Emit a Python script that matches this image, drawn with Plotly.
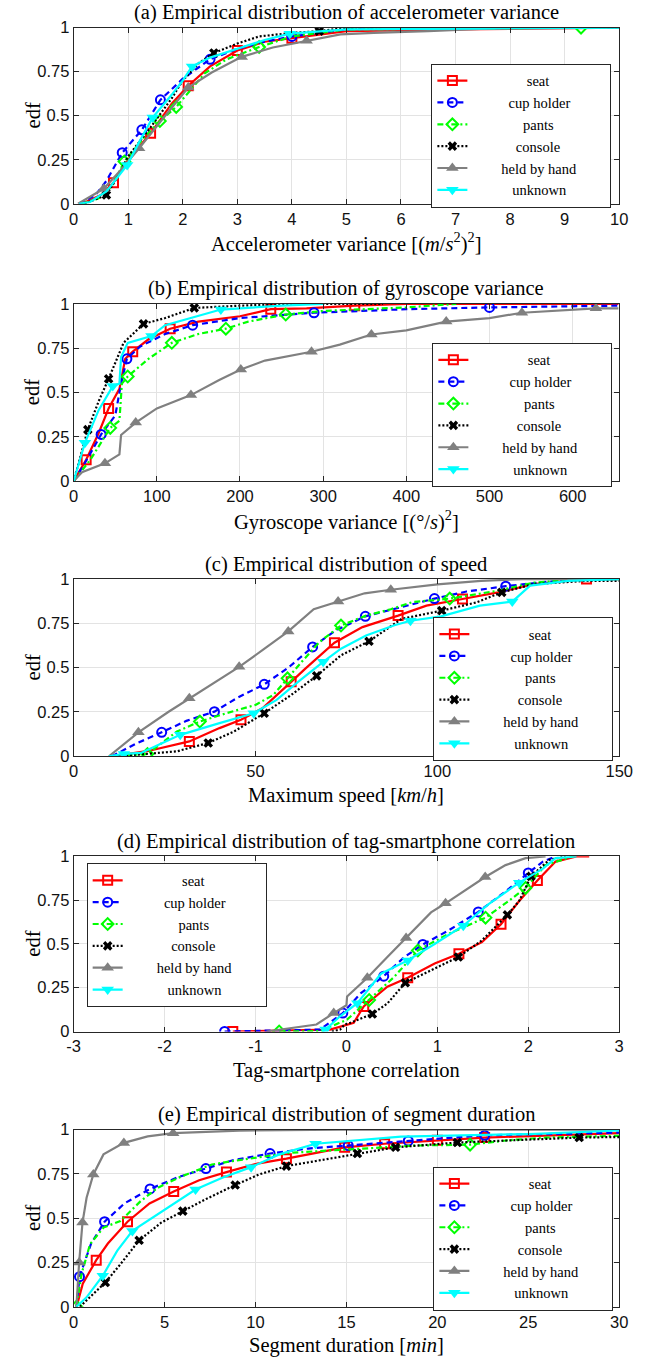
import plotly.graph_objects as go

# Empirical mapping between figure pixels and the photographed picture:
# picture = K * (figure + O).  Reference pixel positions are converted with it.
KX, OX = 0.969, 7.5
KY, OY = 0.986, 8.5
W, H = 660, 1370

NAMES = ['seat', 'cup holder', 'pants', 'console', 'held by hand', 'unknown']
COLORS = ['#ff0000', '#0000ff', '#00ff00', '#000000', '#808080', '#00ffff']
DASH = ['solid', '6px,4px', '6px,3px,2px,3px', '2px,2px', 'solid', 'solid']
SYMB = ['square-open', 'circle-open', 'diamond-open', 'x', 'triangle-up', 'triangle-down']

# ---------------- (a) accelerometer variance ----------------
a_seat_x = [0.15, 0.5, 0.73, 1.0, 1.41, 1.8, 2.1, 2.5, 3.0, 3.5, 4.0, 5.0, 7.0, 10.0]
a_seat_y = [0, 0.05, 0.12, 0.25, 0.40, 0.57, 0.67, 0.78, 0.87, 0.92, 0.94, 0.98, 0.99, 1.0]
a_seat_m = [2, 4, 6, 8, 10]
a_cup_x = [0.1, 0.4, 0.6, 0.89, 1.25, 1.59, 2.0, 2.5, 3.0, 3.5, 4.0, 5.0, 6.0, 10.0]
a_cup_y = [0, 0.05, 0.13, 0.29, 0.42, 0.59, 0.71, 0.82, 0.88, 0.92, 0.95, 0.99, 1.0, 1.0]
a_cup_m = [3, 4, 5, 7, 10]
a_pants_x = [0.15, 0.45, 0.7, 0.93, 1.3, 1.58, 1.88, 2.1, 2.4, 2.8, 3.4, 4.0, 5.0, 9.3, 10.0]
a_pants_y = [0, 0.03, 0.1, 0.24, 0.38, 0.47, 0.55, 0.63, 0.74, 0.82, 0.89, 0.95, 0.99, 1.0, 1.0]
a_pants_m = [3, 5, 6, 10, 13]
a_console_x = [0.2, 0.6, 0.8, 1.0, 1.4, 1.8, 2.0, 2.3, 2.57, 3.0, 3.4, 4.0, 4.5, 5.0, 10.0]
a_console_y = [0, 0.05, 0.15, 0.27, 0.43, 0.6, 0.7, 0.8, 0.856, 0.91, 0.95, 0.97, 0.98, 1.0, 1.0]
a_console_m = [1, 8, 12]
a_held_x = [0.08, 0.55, 0.86, 1.2, 1.6, 2.1, 2.53, 3.08, 3.65, 4.27, 4.89, 5.5, 6.5, 8.0, 10.0]
a_held_y = [0, 0.085, 0.19, 0.315, 0.47, 0.66, 0.745, 0.834, 0.887, 0.925, 0.962, 0.97, 0.98, 1.0, 1.0]
a_held_m = [1, 3, 5, 7, 9]
a_unk_x = [0.1, 0.3, 0.6, 0.98, 1.2, 1.45, 1.8, 2.0, 2.17, 2.5, 3.0, 3.5, 3.96, 5.0, 10.0]
a_unk_y = [0, 0.01, 0.07, 0.22, 0.35, 0.49, 0.62, 0.7, 0.78, 0.83, 0.88, 0.93, 0.966, 0.99, 1.0]
a_unk_m = [3, 5, 8, 12]

# ---------------- (b) gyroscope variance ----------------
b_seat_x = [0, 15, 30, 42, 55, 62, 71, 90, 116, 150, 200, 237, 280, 338, 400, 655]
b_seat_y = [0, 0.12, 0.27, 0.41, 0.52, 0.69, 0.73, 0.8, 0.86, 0.9, 0.93, 0.97, 0.975, 0.99, 1.0, 1.0]
b_seat_m = [1, 3, 6, 8, 11, 13]
b_cup_x = [0, 12, 33, 50, 57, 64, 80, 110, 143, 200, 289, 400, 500, 655]
b_cup_y = [0, 0.09, 0.263, 0.37, 0.55, 0.69, 0.76, 0.83, 0.88, 0.92, 0.95, 0.97, 0.98, 0.99]
b_cup_m = [2, 5, 8, 10, 12]
b_pants_x = [0, 20, 44, 55, 58, 65, 90, 118, 150, 183, 210, 255, 300, 400, 460]
b_pants_y = [0, 0.12, 0.30, 0.34, 0.55, 0.59, 0.69, 0.78, 0.83, 0.86, 0.9, 0.94, 0.96, 0.98, 1.0]
b_pants_m = [2, 5, 7, 9, 11]
b_console_x = [0, 17, 30, 42, 60, 84, 110, 145, 200, 260, 372]
b_console_y = [0, 0.29, 0.45, 0.577, 0.78, 0.887, 0.92, 0.977, 0.99, 1.0, 1.0]
b_console_m = [1, 3, 5, 7]
b_held_x = [0, 10, 37.6, 55, 57, 74.6, 100, 141, 175, 201, 230, 286, 320, 358, 400, 448, 500, 539, 628, 655]
b_held_y = [0, 0.05, 0.10, 0.15, 0.26, 0.33, 0.41, 0.485, 0.57, 0.63, 0.68, 0.73, 0.77, 0.827, 0.85, 0.9, 0.92, 0.95, 0.975, 0.975]
b_held_m = [2, 5, 7, 9, 11, 13, 15, 17, 18]
b_unk_x = [0, 13.5, 30, 47, 55, 57, 65, 93.6, 110, 177, 250, 300]
b_unk_y = [0, 0.216, 0.4, 0.536, 0.55, 0.7, 0.78, 0.818, 0.88, 0.968, 0.99, 1.0]
b_unk_m = [1, 3, 7, 9]

# ---------------- (c) speed ----------------
c_seat_x = [10.5, 20.5, 31.8, 40.1, 46, 51.9, 59.8, 63.7, 71.7, 79.4, 89.2, 97, 106.9, 116.7, 126.5, 141, 150]
c_seat_y = [0, 0.03, 0.084, 0.159, 0.206, 0.271, 0.42, 0.495, 0.641, 0.729, 0.794, 0.85, 0.888, 0.925, 0.972, 1.0, 1.0]
c_seat_m = [2, 4, 6, 8, 10, 12, 15]
c_cup_x = [10.5, 17, 24.2, 31, 38.7, 45, 52.4, 59, 65.7, 72, 80.2, 90, 99.2, 108, 118.8, 130, 140, 150]
c_cup_y = [0, 0.07, 0.135, 0.2, 0.252, 0.33, 0.406, 0.5, 0.617, 0.71, 0.79, 0.84, 0.89, 0.93, 0.96, 0.985, 1.0, 1.0]
c_cup_m = [2, 4, 6, 8, 10, 12, 14]
c_pants_x = [10.7, 20.3, 28.4, 34.7, 42, 50, 54.9, 58.8, 62.7, 67.6, 73.5, 80.4, 87.2, 93.1, 103.4, 116.7, 126.5, 136, 150]
c_pants_y = [0, 0.013, 0.14, 0.196, 0.243, 0.29, 0.346, 0.44, 0.533, 0.645, 0.738, 0.794, 0.83, 0.87, 0.89, 0.935, 0.98, 0.996, 1.0]
c_pants_m = [1, 3, 7, 10, 14]
c_console_x = [12.2, 28.4, 37, 44.1, 52.4, 59.8, 66.8, 73.5, 81.2, 90.2, 101.2, 110.8, 117.7, 126.5, 141, 150]
c_console_y = [0, 0.028, 0.075, 0.14, 0.243, 0.346, 0.454, 0.57, 0.649, 0.776, 0.822, 0.869, 0.925, 0.972, 0.99, 0.99]
c_console_m = [2, 4, 6, 8, 10, 12]
c_held_x = [9.7, 17.8, 26, 31.8, 38, 45.5, 52, 59, 66, 72.7, 80, 87.2, 100, 112, 123.5, 150]
c_held_y = [0, 0.135, 0.25, 0.327, 0.41, 0.505, 0.6, 0.705, 0.83, 0.873, 0.92, 0.94, 0.97, 0.99, 1.0, 1.0]
c_held_m = [1, 3, 5, 7, 9, 11]
c_unk_x = [9.7, 13.8, 18.5, 29.3, 40.1, 49.5, 55.8, 61.7, 68.6, 73.5, 80.4, 88.2, 92.6, 101, 111.7, 120.6, 125.5, 136, 150]
c_unk_y = [0, 0.013, 0.019, 0.121, 0.187, 0.243, 0.318, 0.42, 0.533, 0.607, 0.682, 0.74, 0.765, 0.79, 0.85, 0.873, 0.963, 0.99, 1.0]
c_unk_m = [1, 3, 5, 8, 12, 15]

# ---------------- (d) tag-smartphone correlation ----------------
d_seat_x = [-1.25, -0.5, -0.18, 0.08, 0.19, 0.45, 0.674, 0.97, 1.237, 1.49, 1.7, 1.9, 2.1, 2.3, 2.53, 2.67]
d_seat_y = [0, 0.005, 0.011, 0.05, 0.143, 0.256, 0.307, 0.388, 0.444, 0.51, 0.613, 0.745, 0.862, 0.97, 1.0, 1.0]
d_seat_m = [0, 4, 6, 8, 10, 12]
d_cup_x = [-1.34, -0.8, -0.29, -0.04, 0.156, 0.41, 0.637, 0.84, 1.12, 1.45, 1.75, 2.0, 2.16, 2.3]
d_cup_y = [0, 0.004, 0.011, 0.105, 0.218, 0.316, 0.425, 0.497, 0.576, 0.683, 0.8, 0.905, 0.97, 1.0]
d_cup_m = [0, 3, 5, 7, 9, 11]
d_pants_x = [-0.74, -0.29, 0.007, 0.25, 0.526, 0.785, 1.12, 1.53, 1.785, 1.97, 2.19, 2.49]
d_pants_y = [0, 0.002, 0.068, 0.18, 0.312, 0.463, 0.557, 0.65, 0.745, 0.82, 0.95, 1.0]
d_pants_m = [0, 3, 5, 7, 9]
d_console_x = [-0.16, -0.07, -0.02, 0.044, 0.285, 0.45, 0.648, 0.93, 1.23, 1.49, 1.77, 1.9, 2.03, 2.23, 2.41]
d_console_y = [0, 0.011, 0.04, 0.05, 0.10, 0.16, 0.278, 0.35, 0.425, 0.52, 0.666, 0.745, 0.886, 0.98, 1.0]
d_console_m = [4, 6, 8, 10, 12]
d_held_x = [-0.88, -0.33, -0.14, 0.0, 0.007, 0.23, 0.45, 0.656, 0.93, 1.09, 1.34, 1.526, 1.75, 1.97, 2.19]
d_held_y = [0, 0.04, 0.105, 0.15, 0.2, 0.307, 0.425, 0.534, 0.68, 0.732, 0.82, 0.882, 0.95, 0.99, 1.0]
d_held_m = [2, 5, 7, 9, 11]
d_unk_x = [-0.27, -0.23, -0.07, 0.12, 0.38, 0.674, 0.97, 1.285, 1.56, 1.9, 2.16, 2.3, 2.53]
d_unk_y = [0, 0.011, 0.087, 0.162, 0.33, 0.406, 0.5, 0.604, 0.726, 0.85, 0.93, 0.99, 1.0]
d_unk_m = [1, 3, 5, 7, 9]

# ---------------- (e) segment duration ----------------
e_seat_x = [0.16, 0.5, 1.24, 1.88, 2.96, 4.17, 5.5, 6.9, 8.4, 10.1, 11.7, 14.9, 17.1, 20, 22.6, 30]
e_seat_y = [0, 0.13, 0.263, 0.357, 0.48, 0.583, 0.65, 0.714, 0.76, 0.808, 0.836, 0.9, 0.92, 0.94, 0.955, 0.98]
e_seat_m = [2, 4, 6, 8, 10, 11, 12, 13, 14]
e_cup_x = [0.16, 0.32, 0.96, 1.7, 2.8, 4.2, 5.78, 7.27, 8.75, 10.8, 12.9, 15.1, 18.4, 22.6, 30]
e_cup_y = [0, 0.17, 0.357, 0.48, 0.584, 0.665, 0.733, 0.78, 0.827, 0.865, 0.893, 0.91, 0.936, 0.968, 0.983]
e_cup_m = [1, 3, 5, 7, 9, 11, 12, 13]
e_pants_x = [0.15, 0.43, 0.9, 1.64, 2.57, 3.69, 4.63, 5.75, 7.6, 8.73, 11.9, 15.8, 18.8, 21.8, 23.9, 26, 30]
e_pants_y = [0, 0.184, 0.353, 0.447, 0.484, 0.597, 0.672, 0.728, 0.803, 0.822, 0.869, 0.89, 0.91, 0.915, 0.94, 0.955, 0.965]
e_pants_m = [0, 13]
e_console_x = [0.34, 0.9, 1.74, 2.57, 3.6, 4.81, 6.0, 7.24, 8.88, 10.2, 11.7, 15.6, 17.7, 21.1, 27.8, 30]
e_console_y = [0, 0.053, 0.137, 0.24, 0.375, 0.475, 0.54, 0.606, 0.687, 0.747, 0.794, 0.865, 0.9, 0.927, 0.955, 0.958]
e_console_m = [2, 4, 6, 8, 10, 11, 12, 13, 14]
e_held_x = [0.15, 0.3, 0.485, 0.71, 1.08, 1.64, 2.76, 4.07, 5.47, 9.1, 14.7, 30]
e_held_y = [0, 0.25, 0.475, 0.615, 0.747, 0.86, 0.925, 0.962, 0.98, 0.994, 1.0, 1.0]
e_held_m = [1, 2, 4, 6, 8]
e_unk_x = [0.15, 0.71, 1.6, 2.39, 3.23, 4.63, 6.7, 8.17, 9.76, 11.3, 13.3, 18, 25, 30]
e_unk_y = [0, 0.053, 0.175, 0.315, 0.428, 0.522, 0.662, 0.728, 0.788, 0.86, 0.92, 0.96, 0.975, 0.995]
e_unk_m = [2, 4, 6, 8, 10]

TITLES = ['(a) Empirical distribution of accelerometer variance',
          '(b) Empirical distribution of gyroscope variance',
          '(c) Empirical distribution of speed',
          '(d) Empirical distribution of tag-smartphone correlation',
          '(e) Empirical distribution of segment duration']
XLABELS = ['Accelerometer variance [(<i>m</i>/<i>s</i><sup>2</sup>)<sup>2</sup>]',
           'Gyroscope variance [(°/<i>s</i>)<sup>2</sup>]',
           'Maximum speed [<i>km</i>/<i>h</i>]',
           'Tag-smartphone correlation',
           'Segment duration [<i>min</i>]']
XRANGES = [[0, 10], [0, 656], [0, 150], [-3, 3], [0, 30]]
XTICKS = [list(range(0, 11)), list(range(0, 601, 100)), [0, 50, 100, 150],
          [-3, -2, -1, 0, 1, 2, 3], [0, 5, 10, 15, 20, 25, 30]]
XTICKTEXT = [[str(v) for v in t] for t in XTICKS]   # plain hyphen for negatives
YTICKS = [0, 0.25, 0.5, 0.75, 1]
YTICKTEXT = ['0', '0.25', '0.5', '0.75', '1']

PANELS = [
    [(a_seat_x, a_seat_y, a_seat_m), (a_cup_x, a_cup_y, a_cup_m), (a_pants_x, a_pants_y, a_pants_m),
     (a_console_x, a_console_y, a_console_m), (a_held_x, a_held_y, a_held_m), (a_unk_x, a_unk_y, a_unk_m)],
    [(b_seat_x, b_seat_y, b_seat_m), (b_cup_x, b_cup_y, b_cup_m), (b_pants_x, b_pants_y, b_pants_m),
     (b_console_x, b_console_y, b_console_m), (b_held_x, b_held_y, b_held_m), (b_unk_x, b_unk_y, b_unk_m)],
    [(c_seat_x, c_seat_y, c_seat_m), (c_cup_x, c_cup_y, c_cup_m), (c_pants_x, c_pants_y, c_pants_m),
     (c_console_x, c_console_y, c_console_m), (c_held_x, c_held_y, c_held_m), (c_unk_x, c_unk_y, c_unk_m)],
    [(d_seat_x, d_seat_y, d_seat_m), (d_cup_x, d_cup_y, d_cup_m), (d_pants_x, d_pants_y, d_pants_m),
     (d_console_x, d_console_y, d_console_m), (d_held_x, d_held_y, d_held_m), (d_unk_x, d_unk_y, d_unk_m)],
    [(e_seat_x, e_seat_y, e_seat_m), (e_cup_x, e_cup_y, e_cup_m), (e_pants_x, e_pants_y, e_pants_m),
     (e_console_x, e_console_y, e_console_m), (e_held_x, e_held_y, e_held_m), (e_unk_x, e_unk_y, e_unk_m)],
]

# layout geometry (reference picture pixels)
PX_L, PX_R = 74, 620
PANEL_PX = [(27, 203), (303, 480), (578, 755), (855, 1030), (1128, 1305)]
LEGEND_PX = [(432, 63), (433, 342), (434, 616), (87, 862), (434, 1165)]
LEG_FONT = 14.5

SERIF = 'Liberation Serif'
SANS = 'Liberation Sans'

# centre the legend labels like the reference (Times advance widths, em)
ADV = {'s': .389, 'e': .444, 'a': .444, 't': .278, 'c': .444, 'u': .5, 'p': .5, ' ': .25,
       'h': .5, 'o': .5, 'l': .278, 'd': .5, 'r': .333, 'n': .5, 'b': .5, 'y': .5, 'k': .5, 'w': .722}
def centred(name):
    widths = {n: sum(ADV.get(ch, .5) for ch in n) for n in NAMES}
    wmax = max(widths.values())
    pad = int(round((wmax - widths[name]) / 2 / .25)) + 8
    return '\u00a0' * pad + name + '\u00a0' * 8

def px(p):   # reference x pixel -> paper fraction
    return (p / KX - OX) / W

def py(p):   # reference y pixel -> paper fraction
    return 1 - (p / KY - OY) / H

fig = go.Figure()
layout = dict(width=W, height=H, margin=dict(l=0, r=0, t=0, b=0), autosize=False,
              paper_bgcolor='white', plot_bgcolor='white', showlegend=True)
annotations = []

for k, series in enumerate(PANELS):
    sfx = '' if k == 0 else str(k + 1)
    xa, ya = 'x' + sfx, 'y' + sfx
    leg = 'legend' + sfx
    for i, (xs, ys, mk) in enumerate(series):
        lw = 2.2
        fig.add_trace(go.Scatter(x=xs, y=ys, mode='lines', xaxis=xa, yaxis=ya,
                                 line=dict(color=COLORS[i], width=lw, dash=DASH[i]),
                                 showlegend=False, hoverinfo='skip'))
        filled = SYMB[i] in ('x', 'triangle-up', 'triangle-down')
        size = {'x': 8.5, 'triangle-up': 11, 'triangle-down': 11}.get(SYMB[i], 9)
        mkd = dict(symbol=SYMB[i], size=size, color=COLORS[i],
                   line=dict(width=0 if filled else 2, color=COLORS[i]))
        fig.add_trace(go.Scatter(x=[xs[j] for j in mk], y=[ys[j] for j in mk], mode='markers',
                                 xaxis=xa, yaxis=ya, marker=mkd, showlegend=False, hoverinfo='skip'))
        fig.add_trace(go.Scatter(x=[None], y=[None], mode='lines+markers', xaxis=xa, yaxis=ya,
                                 name=centred(NAMES[i]), legend=leg,
                                 line=dict(color=COLORS[i], width=lw, dash=DASH[i]), marker=mkd))
    top, bot = PANEL_PX[k]
    common = dict(showline=True, linecolor='#262626', linewidth=1, mirror='allticks',
                  ticks='inside', ticklen=5, tickcolor='#262626', showgrid=True,
                  gridcolor='#e3e3e3', gridwidth=1, zeroline=False,
                  tickfont=dict(family=SANS, size=16.5, color='#111'))
    layout['xaxis' + sfx] = dict(common, domain=[px(PX_L), px(PX_R)], range=XRANGES[k],
                                 tickvals=XTICKS[k], ticktext=XTICKTEXT[k], anchor=ya)
    layout['yaxis' + sfx] = dict(common, domain=[py(bot), py(top)], range=[0, 1],
                                 tickvals=YTICKS, ticktext=YTICKTEXT, anchor=xa)
    lx, ly = LEGEND_PX[k]
    layout[leg] = dict(x=px(lx), y=py(ly), xanchor='left', yanchor='top',
                       bgcolor='white', bordercolor='#262626', borderwidth=1,
                       font=dict(family=SERIF, size=LEG_FONT, color='black'), tracegroupgap=0)
    annotations.append(dict(text=TITLES[k], x=px((PX_L + PX_R) / 2), y=py(top - 15),
                            xref='paper', yref='paper', showarrow=False,
                            xanchor='center', yanchor='middle',
                            font=dict(family=SERIF, size=20.5, color='black')))
    annotations.append(dict(text=XLABELS[k], x=px((PX_L + PX_R) / 2), y=py(bot + 39),
                            xref='paper', yref='paper', showarrow=False,
                            xanchor='center', yanchor='middle',
                            font=dict(family=SERIF, size=20.5, color='black')))
    annotations.append(dict(text='edf', x=px(33), y=py((top + bot) / 2),
                            xref='paper', yref='paper', showarrow=False, textangle=-90,
                            xanchor='center', yanchor='middle',
                            font=dict(family=SERIF, size=20.5, color='black')))

layout['annotations'] = annotations
fig.update_layout(**layout)
fig.write_html('out.html')
